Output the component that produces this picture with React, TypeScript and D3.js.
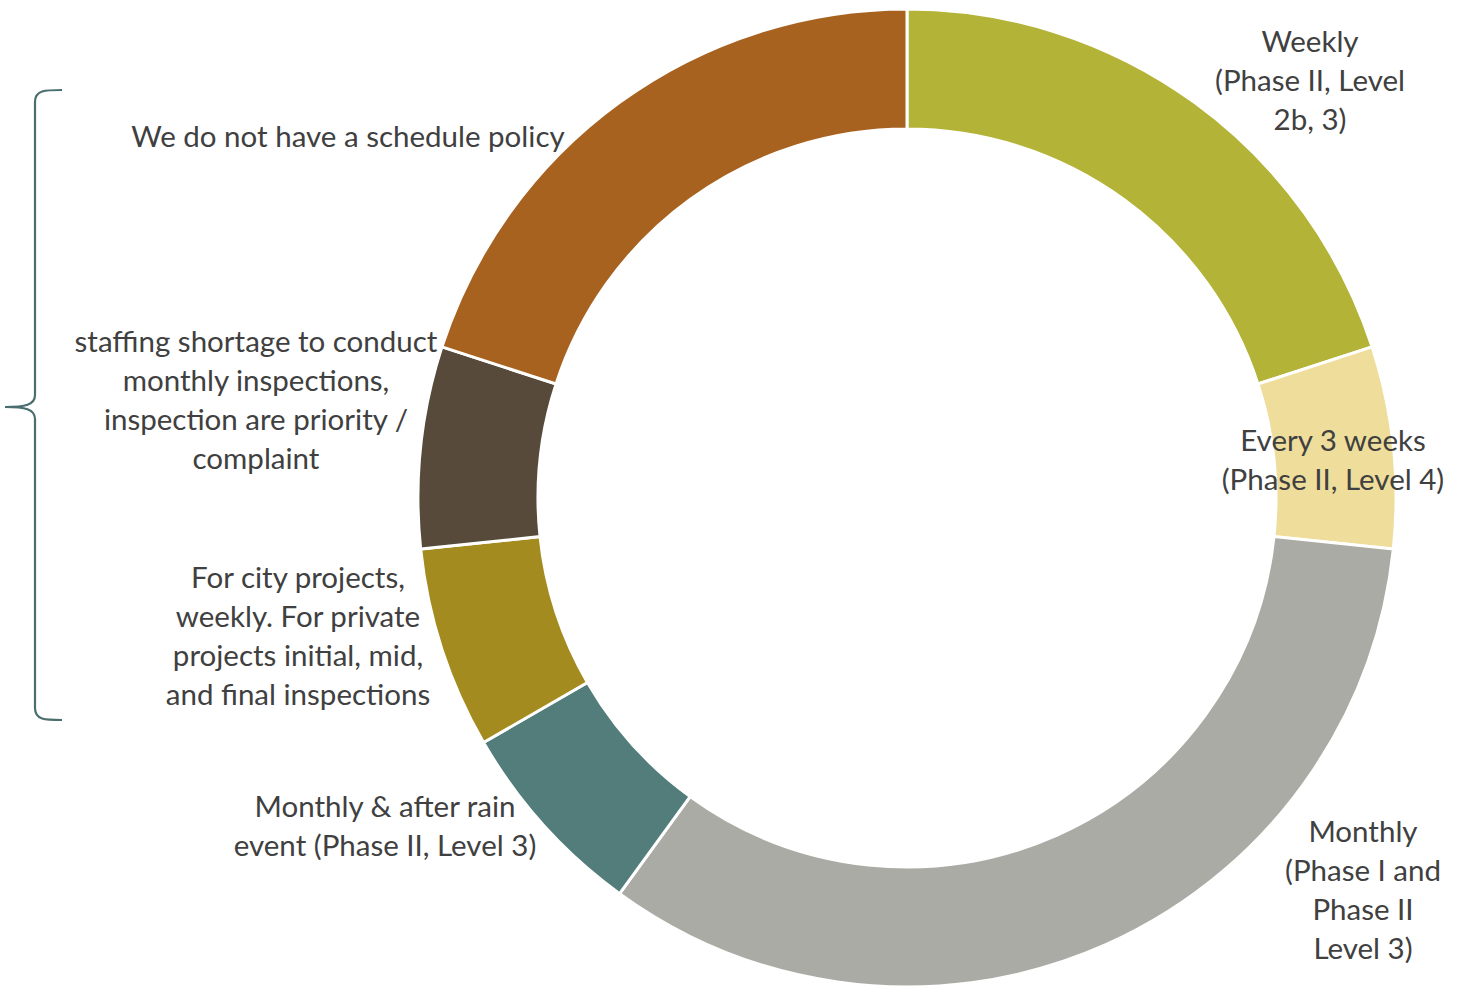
import React from "react";
import * as d3 from "d3";

const categories = [
  "Weekly (Phase II, Level 2b, 3)",
  "Every 3 weeks (Phase II, Level 4)",
  "Monthly (Phase I and Phase II Level 3)",
  "Monthly & after rain event (Phase II, Level 3)",
  "For city projects, weekly. For private projects initial, mid, and final inspections",
  "staffing shortage to conduct monthly inspections, inspection are priority / complaint",
  "We do not have a schedule policy",
];
const values = [3, 1, 5, 1, 1, 1, 3];
const colors = ["#B3B337", "#EEDD9B", "#ABABA6", "#527D7A", "#A38B1F", "#574A3A", "#A8621F"];
const labelLines = [
  ["Weekly", "(Phase II, Level", "2b, 3)"],
  ["Every 3 weeks", "(Phase II, Level 4)"],
  ["Monthly", "(Phase I and", "Phase II", "Level 3)"],
  ["Monthly & after rain", "event (Phase II, Level 3)"],
  ["For city projects,", "weekly. For private", "projects initial, mid,", "and final inspections"],
  ["staffing shortage to conduct", "monthly inspections,", "inspection are priority /", "complaint"],
  ["We do not have a schedule policy"],
];
// label layout: center x, first-line center y
const labelPos = [
  [1310, 42],
  [1333, 441],
  [1363, 832],
  [385, 807],
  [298, 578],
  [256, 342],
  [348, 137],
];

const W = 1460, H = 994;
const cx = 907, cy = 498, rOuter = 489, rInner = 369;
const lineH = 39;

export default function App() {
  const pie = d3.pie<number>().sort(null).value((d) => d).startAngle(0).endAngle(2 * Math.PI);
  const arcs = pie(values);
  const arc = d3.arc<d3.PieArcDatum<number>>().innerRadius(rInner).outerRadius(rOuter);

  const top = 90, bot = 720, mid = 407;
  const brace = `M62,${top} C45,${top} 35,${top} 35,${top + 12} L35,${mid - 12} C35,${mid - 2} 25,${mid} 5,${mid} C25,${mid} 35,${mid + 2} 35,${mid + 12} L35,${bot - 12} C35,${bot} 45,${bot} 62,${bot}`;

  return (
    <svg width={W} height={H} style={{ position: "absolute", left: 0, top: 0 }}>
      <rect width={W} height={H} fill="#fff" />
      <g transform={`translate(${cx},${cy})`}>
        {arcs.map((a, i) => (
          <path key={i} d={arc(a) || ""} fill={colors[i]} stroke="#fff" strokeWidth={3} />
        ))}
      </g>
      <path d={brace} fill="none" stroke="#4A6E6E" strokeWidth={2.2} />
      {labelLines.map((lines, i) => (
        <text
          key={i}
          textAnchor="middle"
          fontFamily="Lato, 'Open Sans', sans-serif"
          fontSize={29.5}
          fill="#404040"
        >
          {lines.map((l, j) => (
            <tspan key={j} x={labelPos[i][0]} y={labelPos[i][1] + j * lineH} dy="0.35em">
              {l}
            </tspan>
          ))}
        </text>
      ))}
    </svg>
  );
}
